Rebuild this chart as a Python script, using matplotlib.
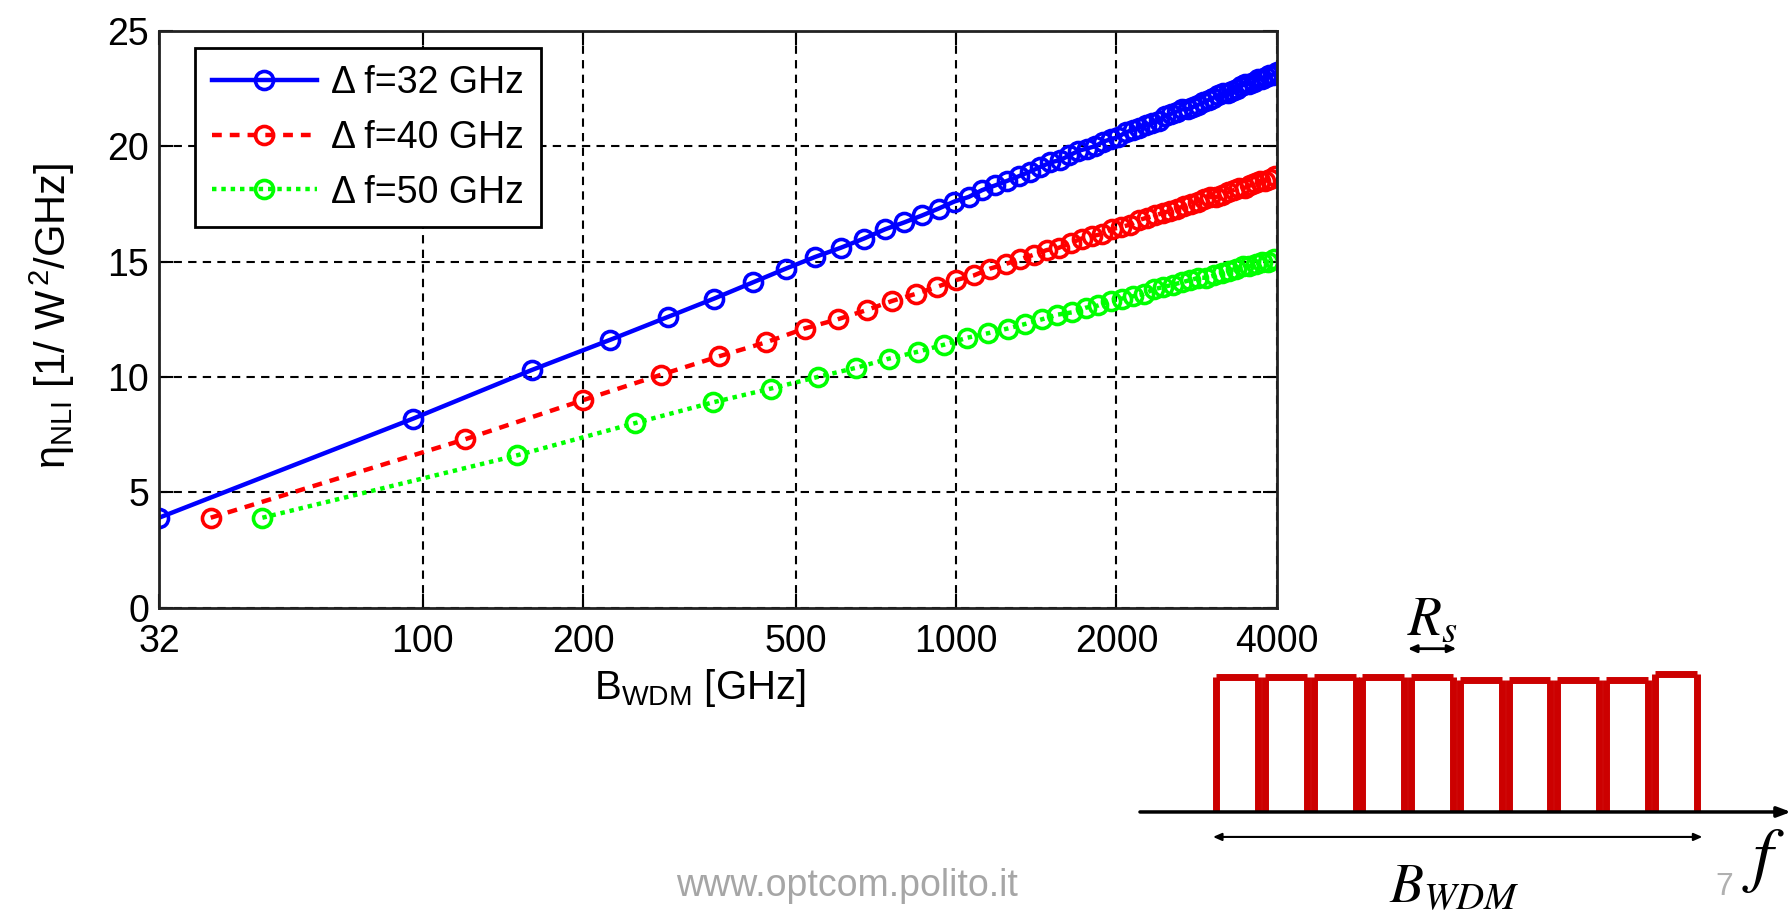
import matplotlib
matplotlib.use("Agg")
import matplotlib.pyplot as plt

plt.rcParams['font.family'] = ['Liberation Sans', 'DejaVu Sans']
plt.rcParams['mathtext.fontset'] = 'custom'
plt.rcParams['mathtext.rm'] = 'Liberation Sans'
plt.rcParams['mathtext.it'] = 'Liberation Sans'
plt.rcParams['mathtext.bf'] = 'Liberation Sans:bold'

# B_WDM [GHz] and eta_NLI [1/W^2/GHz]
b_32 = [32, 96, 160, 224, 288, 352, 416, 480, 544, 608, 672, 736, 800, 864, 928, 992,
        1056, 1120, 1184, 1248, 1312, 1376, 1440, 1504, 1568, 1632, 1696, 1760, 1824,
        1888, 1952, 2016, 2080, 2144, 2208, 2272, 2336, 2400, 2464, 2528, 2592, 2656,
        2720, 2784, 2848, 2912, 2976, 3040, 3104, 3168, 3232, 3296, 3360, 3424, 3488,
        3552, 3616, 3680, 3744, 3808, 3872, 3936, 4000]
eta_32 = [3.9, 8.2, 10.3, 11.6, 12.6, 13.4, 14.1, 14.7, 15.2, 15.6, 16.0, 16.4, 16.7, 17.0,
          17.3, 17.6, 17.8, 18.1, 18.3, 18.5, 18.7, 18.9, 19.1, 19.3, 19.4, 19.6, 19.8, 19.9,
          20.0, 20.2, 20.3, 20.4, 20.6, 20.7, 20.8, 20.9, 21.0, 21.1, 21.3, 21.4, 21.5, 21.6,
          21.6, 21.7, 21.8, 21.9, 22.0, 22.1, 22.2, 22.3, 22.3, 22.4, 22.5, 22.6, 22.7, 22.7,
          22.8, 22.9, 22.9, 23.0, 23.1, 23.1, 23.2]

b_40 = [40, 120, 200, 280, 360, 440, 520, 600, 680, 760, 840, 920, 1000, 1080, 1160, 1240,
        1320, 1400, 1480, 1560, 1640, 1720, 1800, 1880, 1960, 2040, 2120, 2200, 2280, 2360,
        2440, 2520, 2600, 2680, 2760, 2840, 2920, 3000, 3080, 3160, 3240, 3320, 3400, 3480,
        3560, 3640, 3720, 3800, 3880, 3960]
eta_40 = [3.9, 7.3, 9.0, 10.1, 10.9, 11.5, 12.1, 12.5, 12.9, 13.3, 13.6, 13.9, 14.2, 14.4,
          14.7, 14.9, 15.1, 15.3, 15.5, 15.6, 15.8, 16.0, 16.1, 16.2, 16.4, 16.5, 16.6, 16.8,
          16.9, 17.0, 17.1, 17.2, 17.3, 17.4, 17.5, 17.6, 17.7, 17.8, 17.8, 17.9, 18.0, 18.1,
          18.2, 18.2, 18.3, 18.4, 18.5, 18.5, 18.6, 18.7]

b_50 = [50, 150, 250, 350, 450, 550, 650, 750, 850, 950, 1050, 1150, 1250, 1350, 1450, 1550,
        1650, 1750, 1850, 1950, 2050, 2150, 2250, 2350, 2450, 2550, 2650, 2750, 2850, 2950,
        3050, 3150, 3250, 3350, 3450, 3550, 3650, 3750, 3850, 3950]
eta_50 = [3.9, 6.6, 8.0, 8.9, 9.5, 10.0, 10.4, 10.8, 11.1, 11.4, 11.7, 11.9, 12.1, 12.3,
          12.5, 12.7, 12.8, 13.0, 13.1, 13.3, 13.4, 13.5, 13.6, 13.8, 13.9, 14.0, 14.1, 14.2,
          14.3, 14.3, 14.4, 14.5, 14.6, 14.7, 14.8, 14.8, 14.9, 15.0, 15.0, 15.1]

x_ticks = [32, 100, 200, 500, 1000, 2000, 4000]
y_ticks = [0, 5, 10, 15, 20, 25]

# schematic spectrum: 10 channels of width Rs
channel_idx = [0, 1, 2, 3, 4, 5, 6, 7, 8, 9]
channel_height = [1.0, 1.0, 1.0, 1.0, 1.0, 0.98, 0.98, 0.98, 0.98, 1.02]

fig = plt.figure(figsize=(17.91, 9.18), dpi=100)
ax = fig.add_axes([0.0888, 0.338, 0.6242, 0.6284])

ax.plot(b_32, eta_32, '-o', color=(0, 0, 1), lw=3.2, ms=13, mfc='none', mew=2.6,
        label='Δ f=32 GHz')
ax.plot(b_40, eta_40, 'o', ls=(0, (2.2, 1.8)), color=(1, 0, 0), lw=3.2, ms=13,
        mfc='none', mew=2.6, label='Δ f=40 GHz')
ax.plot(b_50, eta_50, 'o', ls=(0, (1, 1.1)), color=(0, 1, 0), lw=3.2, ms=13,
        mfc='none', mew=2.6, label='Δ f=50 GHz')

ax.set_xscale('log')
ax.set_xlim(32, 4000)
ax.set_ylim(0, 25)
ax.set_xticks(x_ticks)
ax.set_xticklabels([str(t) for t in x_ticks])
ax.xaxis.set_minor_locator(matplotlib.ticker.NullLocator())
ax.set_yticks(y_ticks)
ax.grid(True, color='black', linestyle=(0, (4, 3)), linewidth=1.5)
ax.tick_params(direction='in', length=10, width=1.5, labelsize=27, top=True, right=True)
ax.tick_params(axis='x', pad=12)
ax.tick_params(axis='y', pad=7)
for s in ax.spines.values():
    s.set_linewidth(2)
    s.set_color('#222222')

ax.set_xlabel('B$_{\\mathrm{WDM}}$ [GHz]', fontsize=29)
ax.xaxis.set_label_coords(0.484, -0.103)
ax.set_ylabel('η$_{\\mathrm{NLI}}$ [1/ W$^{\\,2}$/GHz]', fontsize=30)
ax.yaxis.set_label_coords(-0.073, 0.505)

leg = ax.legend(loc='upper left', bbox_to_anchor=(0.032, 0.97), borderaxespad=0,
                fontsize=27, fancybox=False, edgecolor='black', framealpha=1,
                handlelength=2.8, handletextpad=0.38, labelspacing=0.5,
                borderpad=0.45)
leg.get_frame().set_linewidth(2)

# bottom-right schematic of the WDM comb
sx = fig.add_axes([0.6365, 0.1155, 0.3635, 0.147])
sx.set_xlim(-1.5, 11.87)
sx.set_ylim(0, 1)
sx.axis('off')
red = '#cc0000'
lefts = [i + 0.07 for i in channel_idx]
rights = [i + 0.93 for i in channel_idx]
sx.vlines(lefts, 0, channel_height, color=red, lw=5, clip_on=False)
sx.vlines(rights, 0, channel_height, color=red, lw=5, clip_on=False)
sx.hlines(channel_height, lefts, rights, color=red, lw=5, clip_on=False)
sx.annotate('', xy=(11.87, 0), xytext=(-1.5, 0), annotation_clip=False,
            arrowprops=dict(arrowstyle='-|>,head_length=0.8,head_width=0.3',
                            color='black', lw=2.5, shrinkA=0, shrinkB=0))
sx.annotate('', xy=(4, 1.21), xytext=(5, 1.21), annotation_clip=False,
            arrowprops=dict(arrowstyle='<|-|>,head_length=0.5,head_width=0.22',
                            color='black', lw=2, shrinkA=0, shrinkB=0))
sx.annotate('', xy=(0, -0.185), xytext=(10.05, -0.185), annotation_clip=False,
            arrowprops=dict(arrowstyle='<|-|>,head_length=0.5,head_width=0.22',
                            color='black', lw=1.5, shrinkA=0, shrinkB=0))
sx.text(4.5, 1.42, '$R_s$', math_fontfamily='stix', fontsize=40, ha='center',
        va='center', clip_on=False)
sx.text(4.95, -0.56, '$B_{WDM}$', math_fontfamily='stix', fontsize=40, ha='center',
        va='center', clip_on=False)
sx.text(11.3, -0.36, '$f$', math_fontfamily='stix', fontsize=52, ha='center',
        va='center', clip_on=False)

fig.text(0.473, 0.035, 'www.optcom.polito.it', fontsize=27, color='#a6a6a6',
         ha='center', va='center')
fig.text(0.963, 0.034, '7', fontsize=23, color='#b0b0b0', ha='center', va='center')

fig.savefig('out.png', dpi=100)
